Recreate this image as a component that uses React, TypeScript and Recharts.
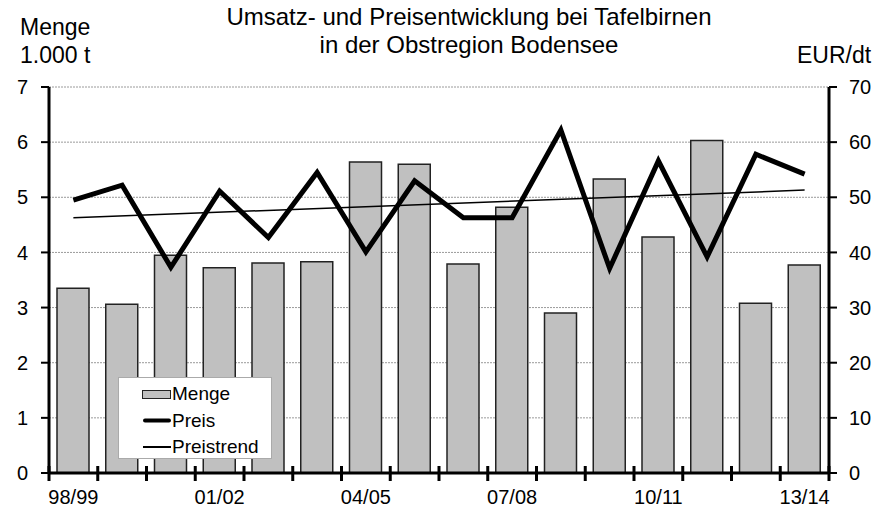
import { ComposedChart, Bar, Line, XAxis, YAxis, CartesianGrid } from 'recharts'

const CATEGORIES = ['98/99', '99/00', '00/01', '01/02', '02/03', '03/04', '04/05', '05/06', '06/07', '07/08', '08/09', '09/10', '10/11', '11/12', '12/13', '13/14']
const MENGE = [3.35, 3.06, 3.95, 3.72, 3.81, 3.83, 5.64, 5.6, 3.79, 4.82, 2.9, 5.33, 4.28, 6.03, 3.08, 3.77]
const PREIS = [49.5, 52.2, 37.3, 51.1, 42.7, 54.5, 40.1, 53.0, 46.3, 46.3, 62.2, 37.1, 56.6, 39.2, 57.8, 54.2]
// trend line read at its two ends, drawn straight between them
const PREISTREND = [46.3, null, null, null, null, null, null, null, null, null, null, null, null, null, null, 51.3]
const LABELED = ['98/99', '01/02', '04/05', '07/08', '10/11', '13/14']
const LEFT_TICKS = [0, 1, 2, 3, 4, 5, 6, 7]
const RIGHT_TICKS = [0, 10, 20, 30, 40, 50, 60, 70]

const FONT = '"Liberation Sans", Arial, sans-serif'

const data = CATEGORIES.map((cat, i) => ({
  cat,
  menge: MENGE[i],
  preis: PREIS[i],
  trend: PREISTREND[i],
}))

// Excel-style: tick marks on the category edges (crossing the axis), labels only every 3rd year
function CatTick(props: any) {
  const { x, y, payload, index } = props
  const half = Number(payload.offset) || 0
  const last = index === CATEGORIES.length - 1
  return (
    <g>
      <rect x={x - half - 1.5} y={y - 7} width={3} height={15} fill="#000" />
      {last && <rect x={x + half - 1.5} y={y - 7} width={3} height={15} fill="#000" />}
      {LABELED.includes(payload.value) && (
        <text x={x} y={y + 31} textAnchor="middle" fontSize={20} fontFamily={FONT} fill="#000">
          {payload.value}
        </text>
      )}
    </g>
  )
}

const LEGEND = [
  { name: 'Menge', kind: 'bar' },
  { name: 'Preis', kind: 'thick' },
  { name: 'Preistrend', kind: 'thin' },
]

export default function App() {
  return (
    <div style={{ position: 'absolute', left: 0, top: 0, width: 890, height: 511, background: '#fff', fontFamily: FONT, color: '#000' }}>
      <ComposedChart width={890} height={511} data={data} margin={{ top: 87, right: 0, bottom: 0, left: 0 }}>
        <CartesianGrid vertical={false} yAxisId="l" stroke="#9a9a9a" strokeDasharray="2 1" />
        <YAxis
          yAxisId="l"
          width={49}
          domain={[0, 7]}
          ticks={LEFT_TICKS}
          interval={0}
          axisLine={{ stroke: '#000', strokeWidth: 3 }}
          tickLine={{ stroke: '#000', strokeWidth: 2 }}
          tickSize={8}
          tickMargin={13}
          tick={{ fontSize: 20, fill: '#000', fontFamily: FONT }}
        />
        <YAxis
          yAxisId="r"
          orientation="right"
          width={61}
          domain={[0, 70]}
          ticks={RIGHT_TICKS}
          interval={0}
          axisLine={{ stroke: '#000', strokeWidth: 3 }}
          tickLine={{ stroke: '#000', strokeWidth: 2 }}
          tickSize={8}
          tickMargin={12}
          tick={{ fontSize: 20, fill: '#000', fontFamily: FONT, textAnchor: 'start' }}
        />
        <Bar yAxisId="l" dataKey="menge" name="Menge" barSize={32} fill="#c0c0c0" stroke="#222" strokeWidth={1.5} isAnimationActive={false} />
        <Line yAxisId="r" dataKey="trend" name="Preistrend" type="linear" stroke="#000" strokeWidth={1.5} dot={false} connectNulls isAnimationActive={false} />
        <Line yAxisId="r" dataKey="preis" name="Preis" type="linear" stroke="#000" strokeWidth={5} dot={false} isAnimationActive={false} />
        <XAxis
          dataKey="cat"
          interval={0}
          height={38}
          tickSize={0}
          tickMargin={0}
          axisLine={{ stroke: '#000', strokeWidth: 3 }}
          tickLine={false}
          tick={<CatTick />}
        />
      </ComposedChart>

      <div style={{ position: 'absolute', left: 0, top: 3, width: 938, textAlign: 'center', fontSize: 24, lineHeight: '28px' }}>
        Umsatz- und Preisentwicklung bei Tafelbirnen
        <br />
        in der Obstregion Bodensee
      </div>
      <div style={{ position: 'absolute', left: 20, top: 13, fontSize: 23, lineHeight: '28px' }}>
        Menge
        <br />
        1.000 t
      </div>
      <div style={{ position: 'absolute', left: 797, top: 41, fontSize: 23, lineHeight: '28px' }}>EUR/dt</div>

      <div
        style={{
          position: 'absolute',
          left: 118,
          top: 377,
          width: 152,
          height: 80,
          background: '#fff',
          border: '1px solid #aaa',
          fontSize: 19,
        }}
      >
        {LEGEND.map((item, i) => (
          <div key={item.name} style={{ position: 'absolute', left: 0, top: 4, height: 24, transform: `translateY(${i * 26.5}px)`, display: 'flex', alignItems: 'center' }}>
            <div style={{ width: 52, display: 'flex', justifyContent: 'flex-end', paddingRight: 1 }}>
              {item.kind === 'bar' && <span style={{ width: 27, height: 7, background: '#c0c0c0', border: '1px solid #222' }} />}
              {item.kind === 'thick' && <span style={{ width: 28, height: 4, background: '#000', borderRadius: 2 }} />}
              {item.kind === 'thin' && <span style={{ width: 28, height: 1.5, background: '#000' }} />}
            </div>
            <span>{item.name}</span>
          </div>
        ))}
      </div>
    </div>
  )
}
